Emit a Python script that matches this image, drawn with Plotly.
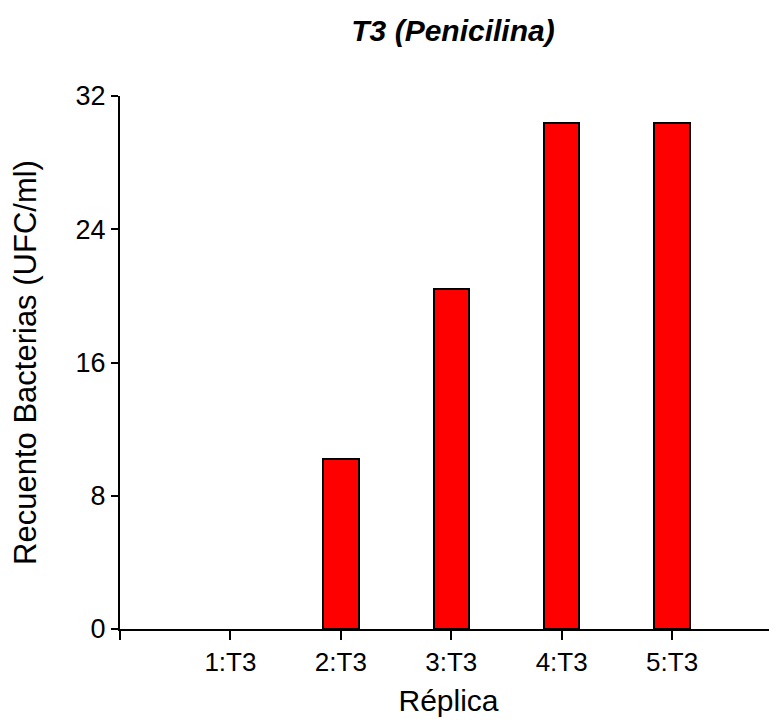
import plotly.graph_objects as go

categories = ["1:T3", "2:T3", "3:T3", "4:T3", "5:T3"]
positions = [1, 2, 3, 4, 5]
values = [0, 10.2, 20.4, 30.4, 30.4]
y_ticks = [0, 8, 16, 24, 32]

fig = go.Figure()
fig.add_trace(go.Bar(
    x=positions, y=values, width=0.32,
    marker=dict(color="#FF0000",
                line=dict(color="black", width=[0 if v == 0 else 2 for v in values])),
    showlegend=False,
))

# page body has an 8px default margin; compensate in figure size/margins
font_family = "Liberation Sans, Arial, sans-serif"
fig.update_layout(
    width=769, height=715,
    margin=dict(l=112, r=0, t=88, b=94, autoexpand=False),
    plot_bgcolor="white", paper_bgcolor="white",
    font=dict(family=font_family, color="black"),
    title=dict(text="<b><i>T3 (Penicilina)</i></b>", x=445 / 769, xanchor="center",
               xref="container", y=1 - 22 / 715, yanchor="middle", yref="container",
               automargin=False,
               font=dict(size=30, family=font_family, color="black")),
    xaxis=dict(
        range=[0, 5.95], tickmode="array",
        tickvals=[0] + positions, ticktext=[""] + categories,
        showline=True, linecolor="black", linewidth=2,
        ticks="outside", ticklen=9, tickwidth=2, tickcolor="black",
        showgrid=False, zeroline=False, automargin=False,
        tickfont=dict(size=26),
        title=dict(text="Réplica", font=dict(size=30), standoff=14),
    ),
    yaxis=dict(
        range=[0, 32], tickmode="array", tickvals=y_ticks,
        showline=True, linecolor="black", linewidth=2,
        ticks="outside", ticklen=7, tickwidth=2, tickcolor="black",
        showgrid=False, zeroline=False, automargin=False,
        tickfont=dict(size=27),
        title=dict(text="Recuento Bacterias (UFC/ml)", font=dict(size=31), standoff=30),
    ),
    bargap=0,
)

fig.write_html("out.html")
